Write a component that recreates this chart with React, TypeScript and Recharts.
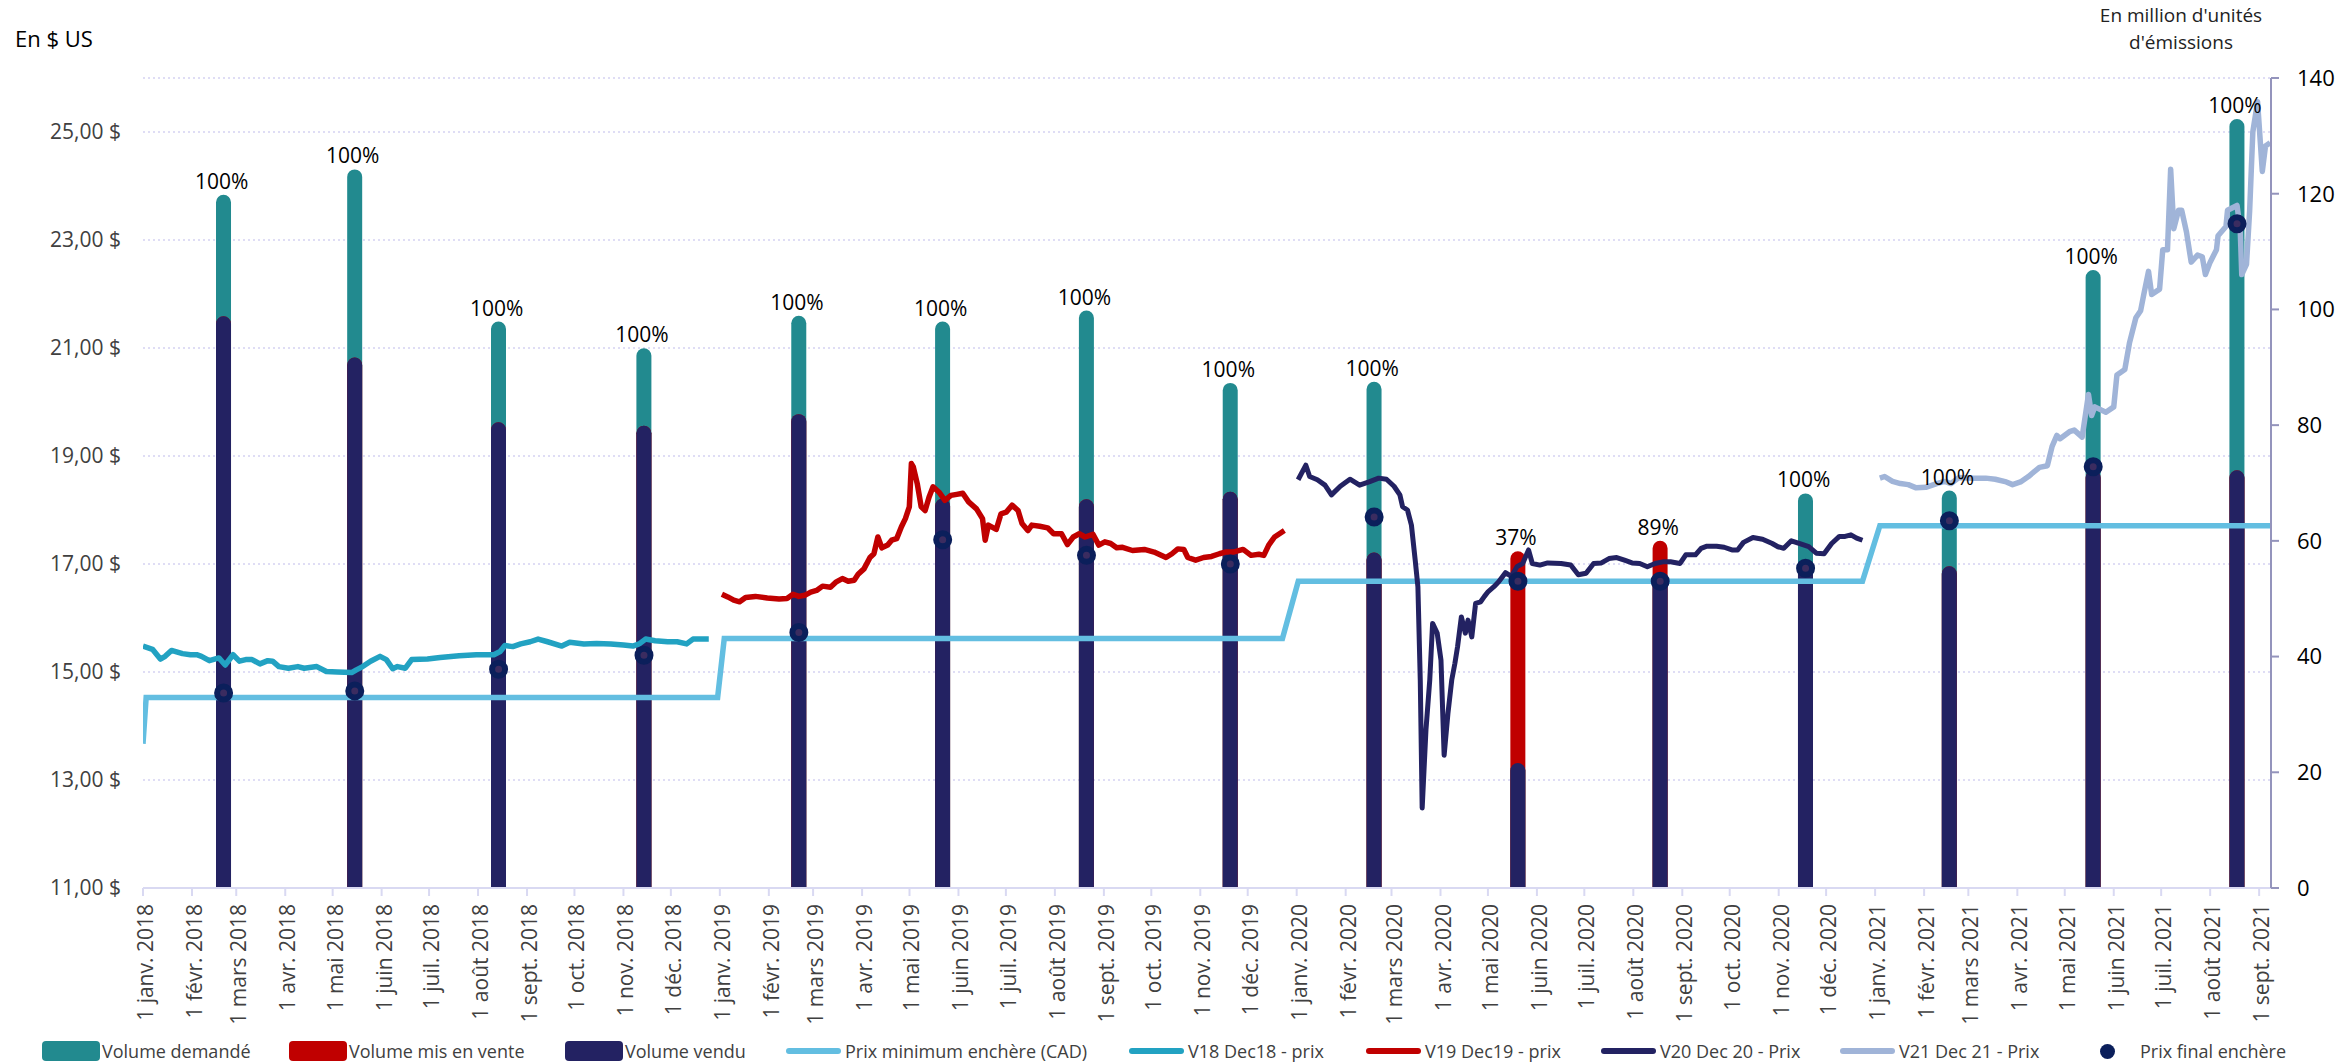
import React from 'react';
import { ComposedChart, Bar, Line, XAxis, YAxis, CartesianGrid, Legend } from 'recharts';

const FONT = "'Open Sans', sans-serif";

// ---- Auctions (day offset from 1 Jan 2018) ----
const auctionDays = [51, 134, 225, 317, 415, 506, 597, 688, 779, 870, 960, 1052, 1143, 1234, 1325];
const volumeDemande = [119.8, 124.2, 97.9, 93.3, 98.9, 97.9, 99.8, 87.3, 87.5, 21.6, 53.4, 68.2, 68.7, 106.8, 132.9];
const volumeMisEnVente = [98.8, 91.7, 80.5, 79.9, 81.9, 67.3, 67.2, 68.5, 58.0, 58.2, 60.0, 56.0, 55.6, 72.2, 72.2];
const volumeVendu = [98.8, 91.7, 80.5, 79.9, 81.9, 67.3, 67.2, 68.5, 58.0, 21.6, 53.4, 56.0, 55.6, 72.2, 72.2];
const prixFinalEnchere = [14.61, 14.65, 15.05, 15.31, 15.73, 17.45, 17.16, 17.0, 17.87, 16.68, 16.68, 16.92, 17.8, 18.8, 23.3];

// ---- Price series: [day offset, price] ----
const prixMinimum: [number, number][] = [
  [0, 13.67], [2, 14.53], [363.6, 14.53], [367.8, 15.62], [721, 15.62], [731, 16.68],
  [1088, 16.68], [1099, 17.71], [1346.5, 17.71],
];

const v18Prix: [number, number][] = [
  [0, 15.48], [6, 15.42], [11, 15.24], [14, 15.29], [18, 15.4], [25, 15.34], [30, 15.32], [34, 15.32],
  [37, 15.29], [42, 15.21], [48, 15.26], [52, 15.13], [57, 15.32], [61, 15.2], [65, 15.23], [69, 15.23],
  [74, 15.15], [79, 15.21], [82, 15.2], [86, 15.1], [92, 15.07], [98, 15.1], [102, 15.07], [110, 15.1],
  [116, 15.01], [123, 15.0], [132, 14.99], [135, 15.04], [139, 15.1], [144, 15.2], [150, 15.29], [154, 15.23],
  [158, 15.06], [161, 15.1], [166, 15.07], [170, 15.23], [180, 15.24], [188, 15.27], [200, 15.3], [211, 15.32],
  [222, 15.32], [226, 15.38], [229, 15.49], [234, 15.47], [239, 15.52], [245, 15.56], [250, 15.61], [256, 15.56],
  [265, 15.48], [270, 15.55], [279, 15.52], [287, 15.53], [296, 15.52], [304, 15.5], [310, 15.48], [314, 15.52],
  [318, 15.61], [324, 15.58], [332, 15.56], [338, 15.56], [344, 15.52], [348, 15.61], [358, 15.61],
];

const v19Prix: [number, number][] = [
  [366.3, 16.44], [370, 16.39], [373.8, 16.33], [377.5, 16.3], [381.3, 16.38], [387.5, 16.4], [395, 16.37],
  [402.5, 16.35], [407.5, 16.36], [411.3, 16.44], [415, 16.4], [418.7, 16.42], [422.5, 16.48], [426.2, 16.51],
  [430, 16.59], [435, 16.57], [438.7, 16.67], [442.5, 16.73], [446.2, 16.68], [450, 16.7], [452.5, 16.81],
  [456.2, 16.91], [460, 17.12], [462.5, 17.19], [465, 17.5], [467.5, 17.3], [471.2, 17.35], [473.7, 17.44],
  [476.9, 17.47], [479.9, 17.69], [482.4, 17.84], [484.9, 18.06], [486.2, 18.86], [487.4, 18.8], [489.9, 18.49],
  [492.4, 18.06], [494.9, 17.99], [497.4, 18.24], [499.9, 18.43], [503.7, 18.33], [507.4, 18.18], [511.2, 18.27],
  [514.9, 18.29], [518.7, 18.31], [522.4, 18.15], [527.4, 18.02], [531.2, 17.84], [532.9, 17.44], [534.9, 17.72],
  [539.9, 17.64], [542.9, 17.93], [546.2, 17.96], [549.9, 18.09], [553.7, 17.99], [556.2, 17.75], [559.9, 17.62],
  [562.4, 17.72], [567.4, 17.7], [572.4, 17.67], [576.2, 17.56], [581.2, 17.56], [584.9, 17.36], [588.6, 17.5],
  [592.4, 17.56], [596.1, 17.5], [601.1, 17.55], [604.8, 17.35], [608.6, 17.41], [612.3, 17.38], [616.1, 17.3],
  [619.8, 17.31], [626.1, 17.25], [633.6, 17.27], [639.8, 17.22], [647.3, 17.12], [651.1, 17.19], [654.8, 17.28],
  [658.6, 17.27], [661.1, 17.12], [666.1, 17.07], [671.1, 17.12], [676.1, 17.14], [681.1, 17.19], [684.8, 17.22],
  [689.8, 17.22], [696.1, 17.27], [701.1, 17.16], [706.1, 17.18], [709.2, 17.16], [712.3, 17.35], [716, 17.5],
  [722.2, 17.62],
];

const v20Prix: [number, number][] = [
  [730.9, 18.56], [735.8, 18.83], [738.2, 18.62], [743.1, 18.56], [747.9, 18.46], [752, 18.28], [757.6, 18.44],
  [763.7, 18.57], [769.8, 18.46], [775.8, 18.52], [781.9, 18.59], [786.8, 18.57], [791.6, 18.44], [795.3, 18.28],
  [797, 18.06], [800.1, 18.0], [802.6, 17.72], [805, 17.07], [806.7, 16.58], [808.2, 14.85], [809.4, 12.48],
  [811.8, 13.93], [814.2, 14.85], [816, 15.9], [818.9, 15.72], [821.3, 15.22], [823.3, 13.46], [825.7, 14.23],
  [828.1, 14.85], [830.1, 15.16], [831.8, 15.47], [834.2, 16.02], [836.7, 15.72], [838.4, 15.96], [840.8, 15.65],
  [843.2, 16.27], [846.4, 16.3], [848.8, 16.4], [851.2, 16.49], [854.8, 16.58], [857.8, 16.67], [862.1, 16.84],
  [865.8, 16.77], [869.4, 16.95], [873, 17.01], [876.7, 17.26], [879.1, 17.01], [883.9, 16.98], [888.8, 17.02],
  [897.3, 17.01], [903.4, 16.98], [908.2, 16.8], [913.1, 16.83], [917.9, 17.01], [922.8, 17.02], [927.6, 17.1],
  [932.5, 17.12], [937.4, 17.07], [942.2, 17.02], [947.1, 17.01], [951.9, 16.95], [956.8, 17.01], [961.7, 17.04],
  [966.5, 17.04], [972.6, 17.01], [976.2, 17.17], [982.3, 17.17], [985.9, 17.29], [989.6, 17.33], [995.7, 17.33],
  [1000.5, 17.31], [1005.4, 17.26], [1009, 17.26], [1012.7, 17.4], [1018.7, 17.49], [1024.8, 17.46],
  [1030.9, 17.38], [1034.5, 17.32], [1038.2, 17.29], [1043, 17.43], [1047.9, 17.38], [1054, 17.32],
  [1058.8, 17.2], [1063.7, 17.19], [1068.5, 17.38], [1073.4, 17.51], [1077, 17.51], [1080.7, 17.54],
  [1084.3, 17.48], [1088, 17.44],
];

const v21Prix: [number, number][] = [
  [1099, 18.59], [1102, 18.62], [1107, 18.53], [1112, 18.49], [1117, 18.47], [1122, 18.41], [1128, 18.42],
  [1135, 18.49], [1140, 18.53], [1144, 18.49], [1149, 18.6], [1158, 18.59], [1166, 18.59], [1172, 18.57],
  [1179, 18.52], [1183, 18.47], [1188, 18.52], [1193, 18.62], [1200, 18.79], [1205, 18.82], [1208, 19.18],
  [1211, 19.38], [1213, 19.32], [1219, 19.45], [1222, 19.48], [1227, 19.35], [1231, 20.14], [1233, 19.75],
  [1235, 19.91], [1242, 19.81], [1247, 19.91], [1249, 20.5], [1254, 20.6], [1257, 21.1], [1261, 21.56],
  [1264, 21.69], [1266, 21.99], [1269, 22.42], [1271, 21.99], [1276, 22.09], [1278, 22.82], [1281, 22.82],
  [1283, 24.31], [1285, 23.21], [1288, 23.55], [1290, 23.55], [1293, 23.15], [1296, 22.59], [1300, 22.72],
  [1303, 22.69], [1305, 22.36], [1308, 22.59], [1312, 22.82], [1313, 23.08], [1318, 23.25], [1319, 23.55],
  [1325, 23.64], [1327, 23.21], [1328, 22.36], [1331, 22.55], [1333, 23.55], [1335, 25.0], [1338, 25.56],
  [1341, 24.27], [1343, 24.74], [1346, 24.8],
];

// ---- Axis ticks ----
const MONTHS = ['janv.', 'févr.', 'mars', 'avr.', 'mai', 'juin', 'juil.', 'août', 'sept.', 'oct.', 'nov.', 'déc.'];
const BASE = Date.UTC(2018, 0, 1);
const DAY = 86400000;
const monthTicks: number[] = [];
for (let y = 2018; y <= 2021; y++) {
  for (let m = 0; m < 12; m++) {
    if (y === 2021 && m > 8) break;
    monthTicks.push((Date.UTC(y, m, 1) - BASE) / DAY);
  }
}
const leftTicks = [11, 13, 15, 17, 19, 21, 23, 25];
const rightTicks = [0, 20, 40, 60, 80, 100, 120, 140];
const X_DOMAIN: [number, number] = [0, 1346.5];

// ---- Chart tables built from arrays ----
const auctionRows = auctionDays.map((d, i) => ({
  day: d,
  demande: volumeDemande[i],
  offert: volumeMisEnVente[i],
  vendu: volumeVendu[i],
  prix: prixFinalEnchere[i],
  sommet: Math.max(volumeDemande[i], volumeMisEnVente[i]),
  pct: `${Math.round((volumeVendu[i] / volumeMisEnVente[i]) * 100)}%`,
}));
const toRows = (arr: [number, number][]) => arr.map(([day, v]) => ({ day, v }));

const COLORS = {
  demande: '#228A8F',
  offert: '#C00000',
  vendu: '#232262',
  minimum: '#63BEE1',
  v18: '#22A2C2',
  v19: '#C00000',
  v20: '#232262',
  v21: '#A0B4D8',
  dot: '#0B1F5B',
};

const legendItems = [
  { label: 'Volume demandé', kind: 'rect', color: COLORS.demande },
  { label: 'Volume mis en vente', kind: 'rect', color: COLORS.offert },
  { label: 'Volume vendu', kind: 'rect', color: COLORS.vendu },
  { label: 'Prix minimum enchère (CAD)', kind: 'line', color: COLORS.minimum },
  { label: 'V18 Dec18 - prix', kind: 'line', color: COLORS.v18 },
  { label: 'V19 Dec19 - prix', kind: 'line', color: COLORS.v19 },
  { label: 'V20 Dec 20 - Prix', kind: 'line', color: COLORS.v20 },
  { label: 'V21 Dec 21 - Prix', kind: 'line', color: COLORS.v21 },
  { label: 'Prix final enchère', kind: 'dot', color: COLORS.dot },
];
const legendX = [42, 289, 565, 786, 1129, 1366, 1601, 1840, 2100];

const BAR = 15;

const fmtDollar = (v: number) => `${v.toFixed(2).replace('.', ',')} $`;
const tickLabel = (d: number) => {
  const dt = new Date(BASE + Math.round(d) * DAY);
  return `1 ${MONTHS[dt.getUTCMonth()]} ${dt.getUTCFullYear()}`;
};

const MonthTick = (props: any) => {
  const { x, y, payload } = props;
  return (
    <text
      transform={`translate(${x},${y}) rotate(-90)`}
      textAnchor="end"
      dy={10}
      fontSize={21}
      fontFamily={FONT}
      fill="#404040"
    >
      {tickLabel(payload.value)}
    </text>
  );
};

const PriceDot = (props: any) => {
  const { cx, cy, index } = props;
  if (cx == null || cy == null) return <g key={`pd${index}`} />;
  return <circle key={`pd${index}`} cx={cx} cy={cy} r={6.5} fill="#3B2C60" stroke={COLORS.dot} strokeWidth={6} />;
};

const PctLabel = (props: any) => {
  const { cx, cy, index, payload } = props;
  if (cx == null || cy == null) return <g key={`pl${index}`} />;
  return (
    <text key={`pl${index}`} x={cx - 2} y={cy - 6} textAnchor="middle" fontSize={21} fontFamily={FONT} fill="#000">
      {payload.pct}
    </text>
  );
};

const renderLegend = () => (
  <div style={{ position: 'relative', width: 2340, height: 30, fontFamily: FONT }}>
    {legendItems.map((it, i) => {
      const x = legendX[i];
      let sw: React.ReactNode;
      let textX: number;
      if (it.kind === 'rect') {
        sw = <div style={{ position: 'absolute', left: x, top: 5, width: 58, height: 20, borderRadius: 4, background: it.color }} />;
        textX = x + 60;
      } else if (it.kind === 'line') {
        sw = <div style={{ position: 'absolute', left: x, top: 12, width: 55, height: 6, borderRadius: 3, background: it.color }} />;
        textX = x + 59;
      } else {
        sw = <div style={{ position: 'absolute', left: x, top: 7.5, width: 15, height: 15, borderRadius: '50%', background: it.color }} />;
        textX = x + 40;
      }
      return (
        <React.Fragment key={it.label}>
          {sw}
          <div style={{ position: 'absolute', left: textX, top: 0, height: 30, lineHeight: '30px', fontSize: 18, color: '#404040', whiteSpace: 'nowrap' }}>
            {it.label}
          </div>
        </React.Fragment>
      );
    })}
  </div>
);

export default function App() {
  return (
    <div style={{ position: 'fixed', left: 0, top: 0, width: 2340, height: 1063, background: '#fff', overflow: 'hidden', fontFamily: FONT }}>
      <div style={{ position: 'absolute', left: 15, top: 22, fontSize: 22, color: '#000', lineHeight: '32px' }}>En $ US</div>
      <div style={{ position: 'absolute', left: 2076, top: 2, width: 210, textAlign: 'center', fontSize: 19, lineHeight: '27px', color: '#222' }}>
        En million d'unités
        <br />
        d'émissions
      </div>
      <ComposedChart
        width={2340}
        height={1063}
        data={auctionRows}
        margin={{ top: 78, right: 0, bottom: 0, left: 0 }}
        barGap={-BAR}
      >
        <CartesianGrid yAxisId="left" vertical={false} stroke="#D5D2F2" strokeDasharray="2 3" strokeWidth={1.5} />
        <XAxis
          dataKey="day"
          type="number"
          domain={X_DOMAIN}
          ticks={monthTicks}
          interval={0}
          height={175}
          allowDataOverflow
          tick={<MonthTick />}
          tickSize={8}
          tickMargin={8}
          axisLine={{ stroke: '#D9D9F2', strokeWidth: 2 }}
          tickLine={{ stroke: '#D9D9F2', strokeWidth: 2 }}
        />
        <XAxis xAxisId="auction" dataKey="day" type="number" domain={X_DOMAIN} allowDataOverflow hide />
        <YAxis
          yAxisId="left"
          domain={[11, 26]}
          ticks={leftTicks}
          interval={0}
          width={143}
          allowDataOverflow
          axisLine={false}
          tickLine={false}
          tickSize={0}
          tickMargin={22}
          tickFormatter={fmtDollar}
          tick={{ fill: '#404040', fontSize: 21, fontFamily: FONT }}
        />
        <YAxis
          yAxisId="right"
          orientation="right"
          domain={[0, 140]}
          ticks={rightTicks}
          interval={0}
          width={69}
          allowDataOverflow
          axisLine={{ stroke: '#9494BC', strokeWidth: 2 }}
          tickLine={{ stroke: '#9494BC', strokeWidth: 2 }}
          tickSize={8}
          tickMargin={18}
          tick={{ fill: '#000', fontSize: 22, fontFamily: FONT }}
        />
        <Bar xAxisId="auction" yAxisId="right" dataKey="demande" name="Volume demandé" fill={COLORS.demande} barSize={BAR} radius={[7.5, 7.5, 0, 0]} isAnimationActive={false} />
        <Bar xAxisId="auction" yAxisId="right" dataKey="offert" name="Volume mis en vente" fill={COLORS.offert} barSize={BAR} radius={[7.5, 7.5, 0, 0]} isAnimationActive={false} />
        <Bar xAxisId="auction" yAxisId="right" dataKey="vendu" name="Volume vendu" fill={COLORS.vendu} barSize={BAR} radius={[7.5, 7.5, 0, 0]} isAnimationActive={false} />
        <Line yAxisId="left" data={toRows(prixMinimum)} dataKey="v" name="Prix minimum enchère (CAD)" stroke={COLORS.minimum} strokeWidth={5.5} dot={false} activeDot={false} isAnimationActive={false} />
        <Line yAxisId="left" data={toRows(v18Prix)} dataKey="v" name="V18 Dec18 - prix" stroke={COLORS.v18} strokeWidth={5.5} strokeLinejoin="round" dot={false} activeDot={false} isAnimationActive={false} />
        <Line yAxisId="left" data={toRows(v19Prix)} dataKey="v" name="V19 Dec19 - prix" stroke={COLORS.v19} strokeWidth={5.5} strokeLinejoin="round" dot={false} activeDot={false} isAnimationActive={false} />
        <Line yAxisId="left" data={toRows(v20Prix)} dataKey="v" name="V20 Dec 20 - Prix" stroke={COLORS.v20} strokeWidth={5} strokeLinejoin="round" dot={false} activeDot={false} isAnimationActive={false} />
        <Line yAxisId="left" data={toRows(v21Prix)} dataKey="v" name="V21 Dec 21 - Prix" stroke={COLORS.v21} strokeWidth={5.5} strokeLinejoin="round" dot={false} activeDot={false} isAnimationActive={false} />
        <Line xAxisId="auction" yAxisId="left" dataKey="prix" name="Prix final enchère" stroke="none" dot={PriceDot} activeDot={false} isAnimationActive={false} />
        <Line xAxisId="auction" yAxisId="right" dataKey="sommet" legendType="none" stroke="none" dot={PctLabel} activeDot={false} isAnimationActive={false} />
        <Legend
          layout="horizontal"
          verticalAlign="middle"
          align="center"
          wrapperStyle={{ top: 1036, left: 0, width: 2340, height: 30 }}
          content={renderLegend}
        />
      </ComposedChart>
    </div>
  );
}
